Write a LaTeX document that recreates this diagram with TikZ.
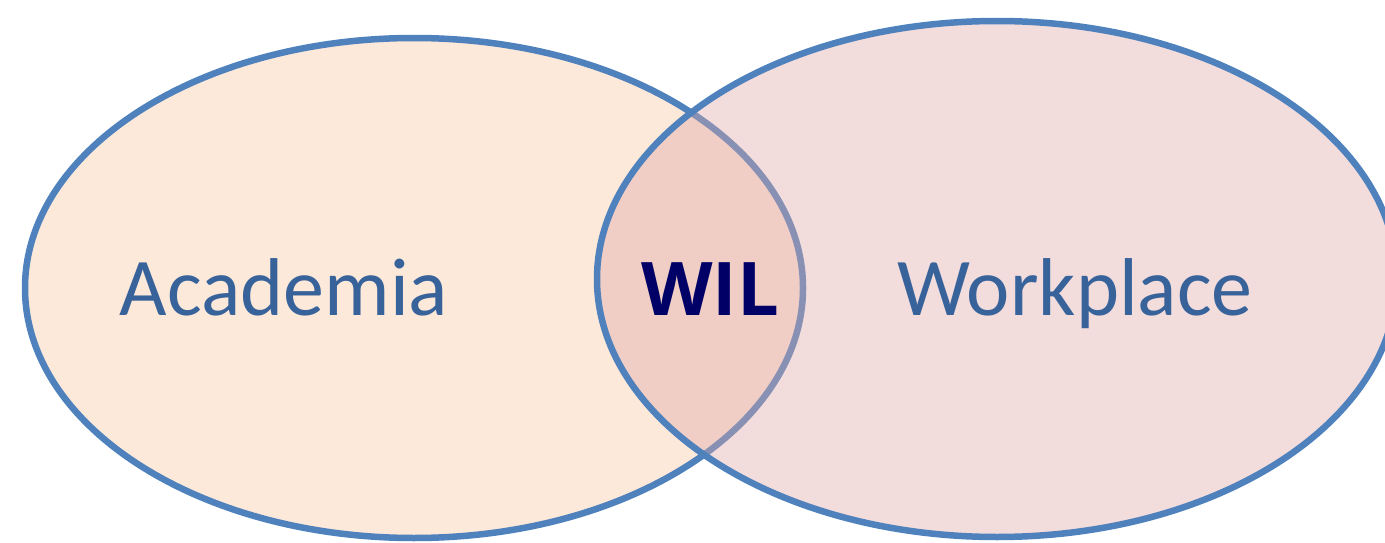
\documentclass[tikz,border=0pt]{standalone}
\usepackage{fontspec}
\setmainfont{Open Sans}
\newfontfamily\labfont{Carlito}
\usetikzlibrary{shapes.geometric}
\definecolor{edgeblue}{HTML}{4F81BD}
\definecolor{peach}{HTML}{FCE9DA}
\definecolor{rose}{RGB}{222,167,167}
\definecolor{labblue}{HTML}{38629A}
\definecolor{navy}{HTML}{000066}
\tikzset{
  setbox/.style={ellipse, draw=edgeblue, line width=6.5pt, inner sep=0pt},
  lab/.style={font=\labfont\fontsize{82}{92}\selectfont, text=labblue, anchor=base, inner sep=0pt},
}
\begin{document}
\begin{tikzpicture}[x=1pt,y=-1pt]
\useasboundingbox (0,0) rectangle (1385,543);
\clip (0,0) rectangle (1385,543);
\node[setbox, fill=peach, minimum width=778pt, minimum height=500pt] (acad) at (414,288) {};
\node[setbox, fill=rose, fill opacity=0.4, draw opacity=1, minimum width=800pt, minimum height=516pt] (work) at (997,279) {};
\node[lab] (tacad) at (284,315) {Academia};
\node[lab] (twork) at (1075,315) {Workplace};
\node[anchor=base, inner sep=0pt, text=navy, font=\bfseries\fontsize{74}{80}\selectfont] (wil) at (710,315) {WIL};
\end{tikzpicture}
\end{document}
